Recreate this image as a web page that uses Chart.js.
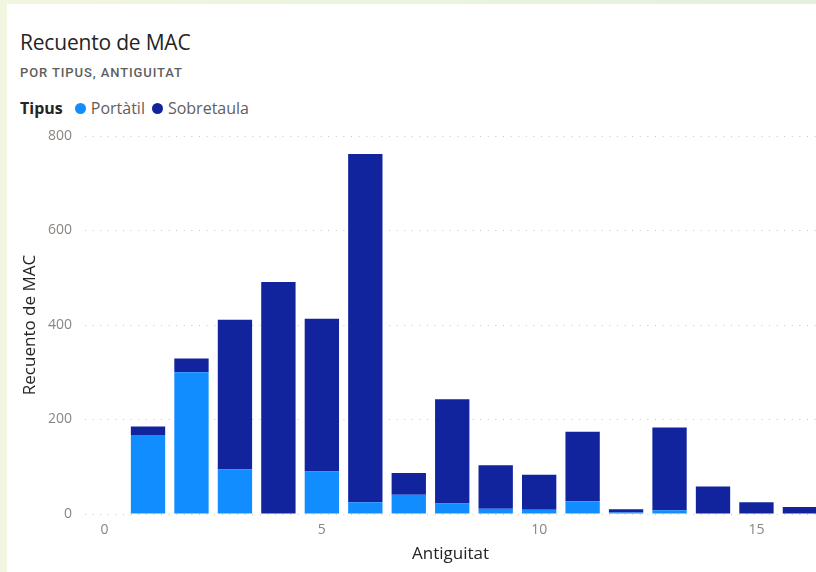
<!DOCTYPE html>
<html>
<head>
<meta charset="utf-8">
<script src="https://cdn.jsdelivr.net/npm/chart.js@4"></script>
<style>
  html, body { margin: 0; padding: 0; }
  body {
    width: 816px; height: 572px; overflow: hidden; position: relative;
    background: linear-gradient(90deg, #f1f6e0 0%, #e3f1dc 100%);
    font-family: 'Open Sans', 'Noto Sans', sans-serif;
  }
  #card { position: absolute; left: 7px; top: 4px; right: 0; bottom: 0; background: #fff; }
  #title { position: absolute; left: 13px; top: 24px; font-size: 21px; color: #252423; font-weight: 400; letter-spacing: -0.2px; }
  #subtitle { position: absolute; left: 13px; top: 61px; font-family: Roboto, sans-serif; font-size: 13px; font-weight: 500; color: #605e5c; letter-spacing: 0.9px; }
  #legend { position: absolute; left: 13px; top: 93px; font-size: 16px; color: #605e5c; display: flex; align-items: center; }
  #legend b { color: #252423; margin-right: 12px; }
  .dot { display: inline-block; width: 11px; height: 11px; border-radius: 50%; margin-right: 5px; }
  .item { display: flex; align-items: center; margin-right: 7px; }
  #wrap { position: absolute; left: 0; top: 116px; width: 809px; height: 452px; }
</style>
</head>
<body>
<div id="card">
  <div id="title">Recuento de MAC</div>
  <div id="subtitle">POR TIPUS, ANTIGUITAT</div>
  <div id="legend"></div>
  <div id="wrap"><canvas id="chart"></canvas></div>
</div>
<script>
// Values
const antiguitat = [1, 2, 3, 4, 5, 6, 7, 8, 9, 10, 11, 12, 13, 14, 15, 16];
const portatil   = [167, 300, 94, 0, 90, 25, 41, 22, 11, 9, 27, 3, 8, 1, 1, 0];
const sobretaula = [18, 29, 317, 491, 323, 737, 46, 221, 92, 74, 147, 7, 175, 57, 24, 15];
const seriesNames = ['Portàtil', 'Sobretaula'];
const seriesColors = ['#118dff', '#12239e'];
const xTicks = [0, 5, 10, 15];
const yTicks = [0, 200, 400, 600, 800];

// HTML legend, Power BI style
const legend = document.getElementById('legend');
legend.innerHTML = '<b>Tipus</b>' + seriesNames.map((n, i) =>
  `<span class="item"><span class="dot" style="background:${seriesColors[i]}"></span>${n}</span>`).join('');

Chart.defaults.font.family = "'Open Sans', 'Noto Sans', sans-serif";

const toPoints = vals => antiguitat.map((x, i) => ({ x, y: vals[i] }));

new Chart(document.getElementById('chart'), {
  type: 'bar',
  data: {
    datasets: [
      { label: seriesNames[0], data: toPoints(portatil), backgroundColor: seriesColors[0] },
      { label: seriesNames[1], data: toPoints(sobretaula), backgroundColor: seriesColors[1] }
    ]
  },
  options: {
    responsive: true,
    maintainAspectRatio: false,
    animation: false,
    layout: { padding: { top: 16, left: 0, right: 0, bottom: 0 } },
    plugins: { legend: { display: false }, tooltip: { enabled: false } },
    datasets: { bar: { barPercentage: 0.79, categoryPercentage: 1 } },
    scales: {
      x: {
        type: 'linear',
        stacked: true,
        offset: false,
        min: -0.45,
        max: 16.37,
        afterBuildTicks: s => { s.ticks = xTicks.map(v => ({ value: v })); },
        afterFit: s => { s.height = 58; s.paddingLeft = 0; s.paddingRight = 0; },
        grid: { display: false, drawTicks: false },
        border: { display: false },
        ticks: { color: '#8a8580', font: { size: 14 }, padding: 8 },
        title: { display: true, text: 'Antiguitat', color: '#252423', font: { size: 17 }, padding: { top: 0, bottom: 8 } }
      },
      y: {
        stacked: true,
        min: 0,
        max: 800,
        afterBuildTicks: s => { s.ticks = yTicks.map(v => ({ value: v })); },
        afterFit: s => { s.width = 78; s.paddingTop = 0; s.paddingBottom = 0; },
        grid: { color: '#c8c6c4', lineWidth: 1, drawTicks: false },
        border: { display: false, dash: [1, 6.6] },
        ticks: { color: '#8a8580', font: { size: 14 }, padding: 13 },
        title: { display: true, text: 'Recuento de MAC', color: '#252423', font: { size: 17 }, padding: { top: 13, bottom: 0 } }
      }
    }
  }
});
</script>
</body>
</html>
